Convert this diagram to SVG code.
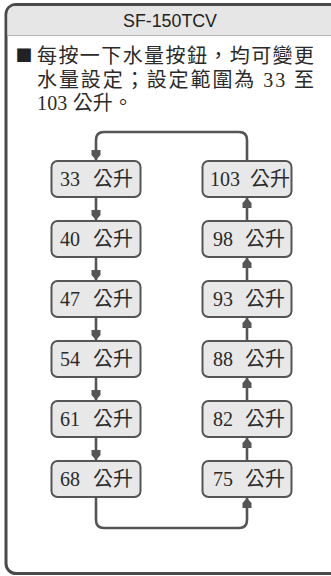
<svg xmlns="http://www.w3.org/2000/svg" width="331" height="576" viewBox="0 0 331 576">
<style>
.frame{fill:#fff;stroke:#4a4a4a;stroke-width:3}
.hdr{fill:#e6e6e6}
.sep{stroke:#b5b5b5;stroke-width:1}
.title{font-family:"Liberation Sans","DejaVu Sans",sans-serif;font-size:19px;fill:#222}
.body{font-family:"Liberation Serif","Noto Sans CJK TC",serif;font-size:20px;fill:#2a2a2a}
.sq{font-family:"Noto Sans CJK TC",sans-serif;font-size:17px;fill:#222}
.box{fill:#e8e8e8;stroke:#555;stroke-width:2}
.lbl{font-family:"Liberation Serif","Noto Sans CJK TC",serif;font-size:20px;fill:#2a2a2a}
.con{fill:none;stroke:#555;stroke-width:2.6}
</style>
<defs>
<marker id="ah" markerUnits="userSpaceOnUse" viewBox="-11 -5 12 10" markerWidth="12" markerHeight="10" refX="0" refY="0" orient="auto">
<path d="M0,0 L-5,4.5 L-10,4.5 L-10,-4.5 L-5,-4.5 Z" fill="#555"/>
</marker>
</defs>
<rect class="frame" x="6" y="4.5" width="345" height="569" rx="10"/>
<path class="hdr" d="M7.5,35 V14.5 Q7.5,6 16,6 H331 V35 Z"/>
<line class="sep" x1="7.5" y1="35.5" x2="331" y2="35.5"/>
<text class="title" x="170" y="27" text-anchor="middle" textLength="94" lengthAdjust="spacingAndGlyphs">SF-150TCV</text>
<text class="sq" x="15.5" y="62">■</text>
<text class="body" x="37" y="63" textLength="277" lengthAdjust="spacing">每按一下水量按鈕，均可變更</text>
<text class="body" x="37" y="87" textLength="277" lengthAdjust="spacing">水量設定；設定範圍為 33 至</text>
<text class="body" x="37" y="110" textLength="96" lengthAdjust="spacing">103 公升。</text>
<g id="connectors">
<path class="con" d="M247,161 V140 Q247,132 239,132 H104 Q96,132 96,140 V160" marker-end="url(#ah)"/>
<path class="con" d="M96,197 V220" marker-end="url(#ah)"/>
<path class="con" d="M96,257 V280" marker-end="url(#ah)"/>
<path class="con" d="M96,317 V340" marker-end="url(#ah)"/>
<path class="con" d="M96,377 V400" marker-end="url(#ah)"/>
<path class="con" d="M96,437 V460" marker-end="url(#ah)"/>
<path class="con" d="M96,497 V520 Q96,528 104,528 H239 Q247,528 247,520 V498" marker-end="url(#ah)"/>
<path class="con" d="M247,461 V438" marker-end="url(#ah)"/>
<path class="con" d="M247,401 V378" marker-end="url(#ah)"/>
<path class="con" d="M247,341 V318" marker-end="url(#ah)"/>
<path class="con" d="M247,281 V258" marker-end="url(#ah)"/>
<path class="con" d="M247,221 V198" marker-end="url(#ah)"/>
</g>
<g id="n33"><rect class="box" x="51.5" y="161" width="89" height="36" rx="6"/><text class="lbl" y="186"><tspan x="60">33 </tspan><tspan x="93">公升</tspan></text></g>
<g id="n40"><rect class="box" x="51.5" y="221" width="89" height="36" rx="6"/><text class="lbl" y="246"><tspan x="60">40 </tspan><tspan x="93">公升</tspan></text></g>
<g id="n47"><rect class="box" x="51.5" y="281" width="89" height="36" rx="6"/><text class="lbl" y="306"><tspan x="60">47 </tspan><tspan x="93">公升</tspan></text></g>
<g id="n54"><rect class="box" x="51.5" y="341" width="89" height="36" rx="6"/><text class="lbl" y="366"><tspan x="60">54 </tspan><tspan x="93">公升</tspan></text></g>
<g id="n61"><rect class="box" x="51.5" y="401" width="89" height="36" rx="6"/><text class="lbl" y="426"><tspan x="60">61 </tspan><tspan x="93">公升</tspan></text></g>
<g id="n68"><rect class="box" x="51.5" y="461" width="89" height="36" rx="6"/><text class="lbl" y="486"><tspan x="60">68 </tspan><tspan x="93">公升</tspan></text></g>
<g id="n103"><rect class="box" x="202.5" y="161" width="89" height="36" rx="6"/><text class="lbl" y="186"><tspan x="210">103 </tspan><tspan x="250">公升</tspan></text></g>
<g id="n98"><rect class="box" x="202.5" y="221" width="89" height="36" rx="6"/><text class="lbl" y="246"><tspan x="213">98 </tspan><tspan x="245">公升</tspan></text></g>
<g id="n93"><rect class="box" x="202.5" y="281" width="89" height="36" rx="6"/><text class="lbl" y="306"><tspan x="213">93 </tspan><tspan x="245">公升</tspan></text></g>
<g id="n88"><rect class="box" x="202.5" y="341" width="89" height="36" rx="6"/><text class="lbl" y="366"><tspan x="213">88 </tspan><tspan x="245">公升</tspan></text></g>
<g id="n82"><rect class="box" x="202.5" y="401" width="89" height="36" rx="6"/><text class="lbl" y="426"><tspan x="213">82 </tspan><tspan x="245">公升</tspan></text></g>
<g id="n75"><rect class="box" x="202.5" y="461" width="89" height="36" rx="6"/><text class="lbl" y="486"><tspan x="213">75 </tspan><tspan x="245">公升</tspan></text></g>
</svg>
